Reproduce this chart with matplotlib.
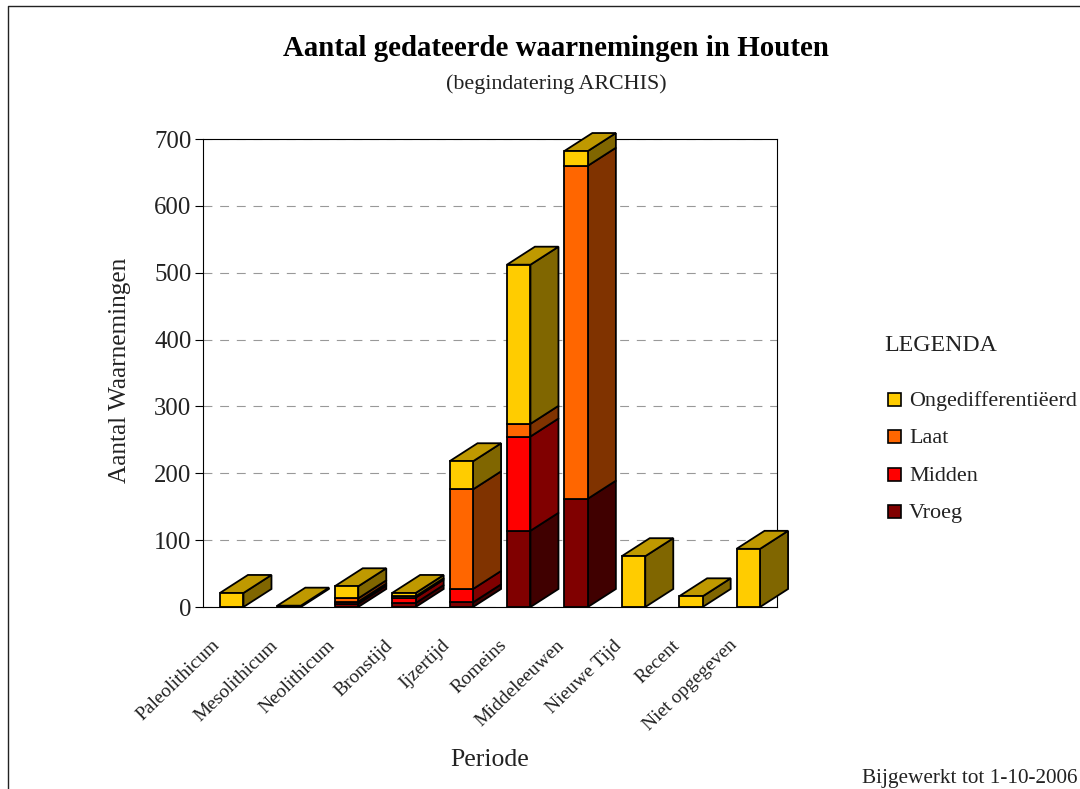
import matplotlib
matplotlib.use('Agg')
import matplotlib.pyplot as plt
from matplotlib.lines import Line2D
from matplotlib.patches import Rectangle
from matplotlib.transforms import ScaledTranslation

plt.rcParams['font.family'] = ['Liberation Serif', 'DejaVu Serif']

perioden = ['Paleolithicum', 'Mesolithicum', 'Neolithicum', 'Bronstijd', 'Ijzertijd',
            'Romeins', 'Middeleeuwen', 'Nieuwe Tijd', 'Recent', 'Niet opgegeven']
vroeg = [0, 2, 5, 6, 7, 114, 162, 0, 0, 0]
midden = [0, 0, 3, 8, 20, 141, 0, 0, 0, 0]
laat = [0, 0, 5, 2, 149, 19, 498, 0, 0, 0]
ongedifferentieerd = [21, 0, 18, 5, 42, 238, 22, 76, 16, 87]
y_ticks = [0, 100, 200, 300, 400, 500, 600, 700]

W, H = 1080, 789
# x, y in pixels of the image -> figure fraction
def fx(x):
    return x / W
def fy(y):
    return 1 - y / H

fig = plt.figure(figsize=(W / 100, H / 100), dpi=100)
ax = fig.add_axes([fx(203), fy(607), fx(777) - fx(203), fy(139) - fy(607)])
ax.set_xlim(0, 10)
ax.set_ylim(0, 700)

# series from bottom to top: values, front, side
series = [
    (vroeg, '#800000', '#400000'),
    (midden, '#FF0000', '#800000'),
    (laat, '#FF6600', '#803300'),
    (ongedifferentieerd, '#FFCC00', '#806600'),
]
top_kleur = '#BF9900'
zwart = '#000000'
bar_w = 0.41
depth_x = 28 / 57.4
depth_y = 18 / (468 / 700)
edge = 1.3

for i in range(len(perioden)):
    x0 = i + 0.5 - bar_w / 2
    x1 = x0 + bar_w
    bottom = 0
    for values, front, side in series:
        v = values[i]
        if v == 0:
            continue
        ax.bar(x0, v, bar_w, bottom=bottom, align='edge', color=front, edgecolor=zwart,
               linewidth=edge, zorder=4, clip_on=False)
        ax.fill([x1, x1 + depth_x, x1 + depth_x, x1],
                [bottom, bottom + depth_y, bottom + v + depth_y, bottom + v],
                facecolor=side, edgecolor=zwart, linewidth=edge, zorder=3, clip_on=False)
        bottom += v
    ax.fill([x0, x0 + depth_x, x1 + depth_x, x1],
            [bottom, bottom + depth_y, bottom + depth_y, bottom],
            facecolor=top_kleur, edgecolor=zwart, linewidth=edge, zorder=3, clip_on=False)

ax.set_yticks(y_ticks)
ax.set_yticklabels([str(t) for t in y_ticks], fontsize=17.8, color='#222222')
ax.tick_params(axis='y', length=5.8, width=0.8, pad=2.5)
ax.set_xticks([i + 0.5 for i in range(len(perioden))])
ax.set_xticklabels(perioden, rotation=44, ha='right', rotation_mode='anchor',
                   fontsize=14, color='#222222')
ax.tick_params(axis='x', length=0, pad=21.5)
for lab in ax.get_xticklabels():
    lab.set_transform(lab.get_transform() + ScaledTranslation(-0.2, 0, fig.dpi_scale_trans))
ax.yaxis.grid(True, color='#999999', linewidth=0.8, linestyle=(0, (8, 7)), zorder=1)
ax.set_axisbelow(True)
for s in ax.spines.values():
    s.set_linewidth(0.8)
    s.set_zorder(2)

fig.text(fx(120), fy(370), 'Aantal Waarnemingen', rotation=90, ha='center', va='center',
         fontsize=18.2, color='#222222')
fig.text(fx(490), fy(760), 'Periode', ha='center', va='center', fontsize=18.5, color='#222222')
fig.text(fx(556), fy(49), 'Aantal gedateerde waarnemingen in Houten', ha='center', va='center',
         fontsize=20.8, fontweight='bold', color='#000000')
fig.text(fx(556), fy(84), '(begindatering ARCHIS)', ha='center', va='center',
         fontsize=15.8, color='#222222')

# legend
fig.text(fx(884), fy(345), 'LEGENDA', ha='left', va='center', fontsize=17.2, color='#222222')
legenda = ['Ongedifferentiëerd', 'Laat', 'Midden', 'Vroeg']
legenda_kleur = ['#FFCC00', '#FF6600', '#FF0000', '#800000']
for k, (naam, kleur) in enumerate(zip(legenda, legenda_kleur)):
    yc = 399 + k * 37.6
    fig.add_artist(Rectangle((fx(888), fy(yc + 6.5)), 13 / W, 13 / H, transform=fig.transFigure,
                             facecolor=kleur, edgecolor=zwart, linewidth=1.2))
    fig.text(fx(909), fy(yc + 2), naam, ha='left', va='center', fontsize=15.9, color='#222222')

fig.text(fx(862), fy(778), 'Bijgewerkt tot 1-10-2006', ha='left', va='center',
         fontsize=15.3, color='#222222')

# rand om de figuur
fig.add_artist(Line2D([fx(8), fx(8), 1], [0, fy(6), fy(6)], color='#222222', linewidth=1.0))

fig.savefig('out.png', dpi=100)
